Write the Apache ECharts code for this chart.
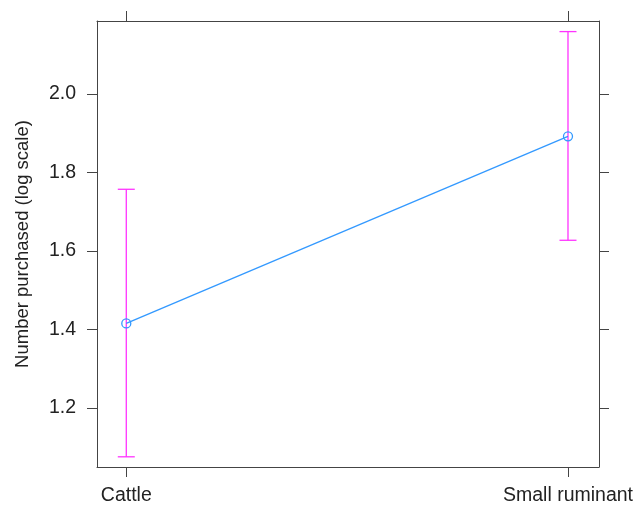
<!DOCTYPE html>
<html>
<head>
<meta charset="utf-8">
<script src="https://cdn.jsdelivr.net/npm/echarts@6/dist/echarts.min.js"></script>
<style>html,body{margin:0;padding:0;background:#fff;}#c{width:642px;height:506px;}</style>
</head>
<body>
<div id="c"></div>
<script>
const categories = ['Cattle', 'Small ruminant'];
const estimates = [1.415, 1.892];
const lowerCI = [1.075, 1.627];
const upperCI = [1.757, 2.159];
const yTicks = [1.2, 1.4, 1.6, 1.8, 2.0];
const yTitle = 'Number purchased (log scale)';

const chart = echarts.init(document.getElementById('c'), null, {renderer: 'canvas'});
const font = '"Liberation Sans", Arial, Helvetica, sans-serif';
const axisCol = '#444';
const textCol = '#222';
const xIdx = categories.map((_, i) => i);

function xAxisCfg(pos, showLabel) {
  return {
    type: 'value', position: pos, min: -0.0663, max: 1.0702,
    splitLine: {show: false},
    axisLine: {show: true, onZero: false, lineStyle: {color: axisCol, width: 1}},
    axisTick: {show: true, length: 10, inside: false, customValues: xIdx, lineStyle: {color: axisCol}},
    axisLabel: {show: showLabel, customValues: xIdx, margin: 19, fontSize: 19.5, color: textCol, fontFamily: font,
      formatter: v => categories[Math.round(v)]}
  };
}
function yAxisCfg(pos, showLabel) {
  return {
    type: 'value', position: pos, min: 1.049, max: 2.186,
    splitLine: {show: false},
    axisLine: {show: true, onZero: false, lineStyle: {color: axisCol, width: 1}},
    axisTick: {show: true, length: 10, inside: false, customValues: yTicks, lineStyle: {color: axisCol}},
    axisLabel: {show: showLabel, customValues: yTicks, margin: 21, fontSize: 19.5, color: textCol, fontFamily: font,
      formatter: v => v.toFixed(1)},
    name: showLabel ? yTitle : '', nameLocation: 'middle', nameGap: 65,
    nameTextStyle: {fontSize: 18.5, color: textCol, fontFamily: font}
  };
}

chart.setOption({
  animation: false,
  backgroundColor: '#fff',
  grid: {left: 97, top: 21, right: 43, bottom: 39, containLabel: false, outerBoundsMode: 'none'},
  xAxis: [xAxisCfg('bottom', true), xAxisCfg('top', false)],
  yAxis: [yAxisCfg('left', true), yAxisCfg('right', false)],
  series: [
    {
      type: 'custom', xAxisIndex: 0, yAxisIndex: 0,
      data: xIdx.map(i => [i, lowerCI[i], upperCI[i]]),
      renderItem: function (params, api) {
        const x = api.value(0);
        const lo = api.coord([x, api.value(1)]);
        const hi = api.coord([x, api.value(2)]);
        const hw = 8.5;
        const st = {stroke: '#ff33ff', lineWidth: 1.3};
        return {type: 'group', children: [
          {type: 'line', shape: {x1: lo[0], y1: lo[1], x2: hi[0], y2: hi[1]}, style: st},
          {type: 'line', shape: {x1: lo[0] - hw, y1: lo[1], x2: lo[0] + hw, y2: lo[1]}, style: st},
          {type: 'line', shape: {x1: hi[0] - hw, y1: hi[1], x2: hi[0] + hw, y2: hi[1]}, style: st}
        ]};
      },
      z: 2
    },
    {
      type: 'line', xAxisIndex: 0, yAxisIndex: 0,
      data: xIdx.map(i => [i, estimates[i]]),
      symbol: 'circle', symbolSize: 9, showSymbol: true,
      lineStyle: {color: '#3399ff', width: 1.3},
      itemStyle: {color: 'rgba(255,255,255,0)', borderColor: '#3399ff', borderWidth: 1.3},
      z: 3
    }
  ]
});
</script>
</body>
</html>
